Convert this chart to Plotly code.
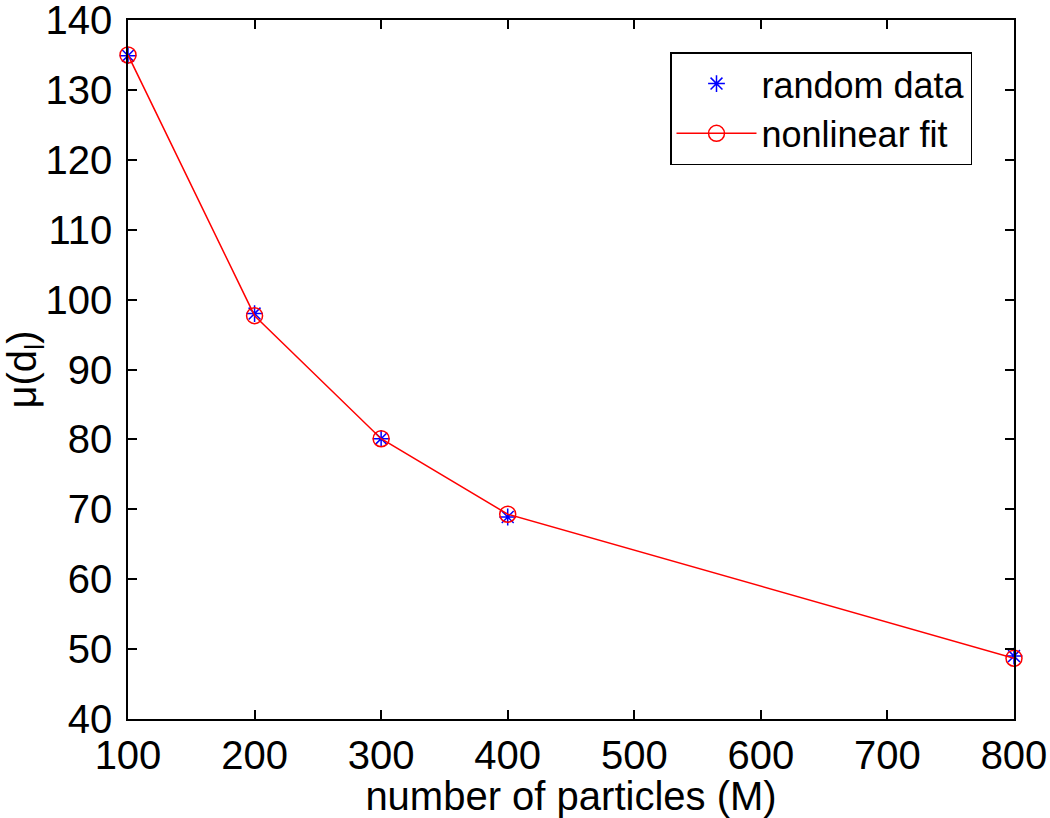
import plotly.graph_objects as go

particles = [100, 200, 300, 400, 800]
random_data = [134.9, 98.0, 80.1, 68.9, 49.0]
nonlinear_fit = [135.0, 97.7, 80.1, 69.3, 48.7]

x_ticks = [100, 200, 300, 400, 500, 600, 700, 800]
y_ticks = [40, 50, 60, 70, 80, 90, 100, 110, 120, 130, 140]

FONT = "Liberation Sans, Arial, Helvetica, sans-serif"
FS = 40

fig = go.Figure()
fig.add_trace(go.Scatter(
    x=particles, y=random_data, mode="markers", name="random data",
    cliponaxis=False,
    marker=dict(symbol="asterisk-open", size=14, color="blue",
                line=dict(color="blue", width=1.5)),
))
fig.add_trace(go.Scatter(
    x=particles, y=nonlinear_fit, mode="lines+markers", name="nonlinear fit",
    cliponaxis=False,
    line=dict(color="red", width=1.5),
    marker=dict(symbol="circle-open", size=16, color="red",
                line=dict(color="red", width=1.5)),
))

axis_common = dict(
    showline=True, linecolor="black", linewidth=1.5, mirror="ticks",
    ticks="inside", ticklen=9, tickwidth=1.5, tickcolor="black",
    showgrid=False, zeroline=False, automargin=False,
    ticklabeloverflow="allow",
    tickfont=dict(family=FONT, size=FS, color="black"),
)

fig.update_layout(
    width=1050, height=818,
    margin=dict(l=128, r=36, t=20, b=99),
    paper_bgcolor="white", plot_bgcolor="white",
    font=dict(family=FONT, size=FS, color="black"),
    showlegend=True,
    legend=dict(x=0.9526, y=0.954, xanchor="right", yanchor="top",
                bordercolor="black", borderwidth=1.5, bgcolor="white",
                font=dict(family=FONT, size=36, color="black"),
                tracegroupgap=0, itemsizing="trace", itemwidth=80),
    xaxis=dict(range=[100, 800], tickvals=x_ticks,
               title=dict(text="number of particles (M)", standoff=0,
                          font=dict(family=FONT, size=FS)),
               **axis_common),
    yaxis=dict(range=[40, 140], tickvals=y_ticks, ticklabelstandoff=6,
               title=dict(text="μ(d<sub>l</sub>)", standoff=16,
                          font=dict(family=FONT, size=FS)),
               **axis_common),
)

fig.write_html(
    "out.html",
    config={"displayModeBar": False},
    post_script="document.body.style.margin='0';document.body.style.overflow='hidden';",
)
